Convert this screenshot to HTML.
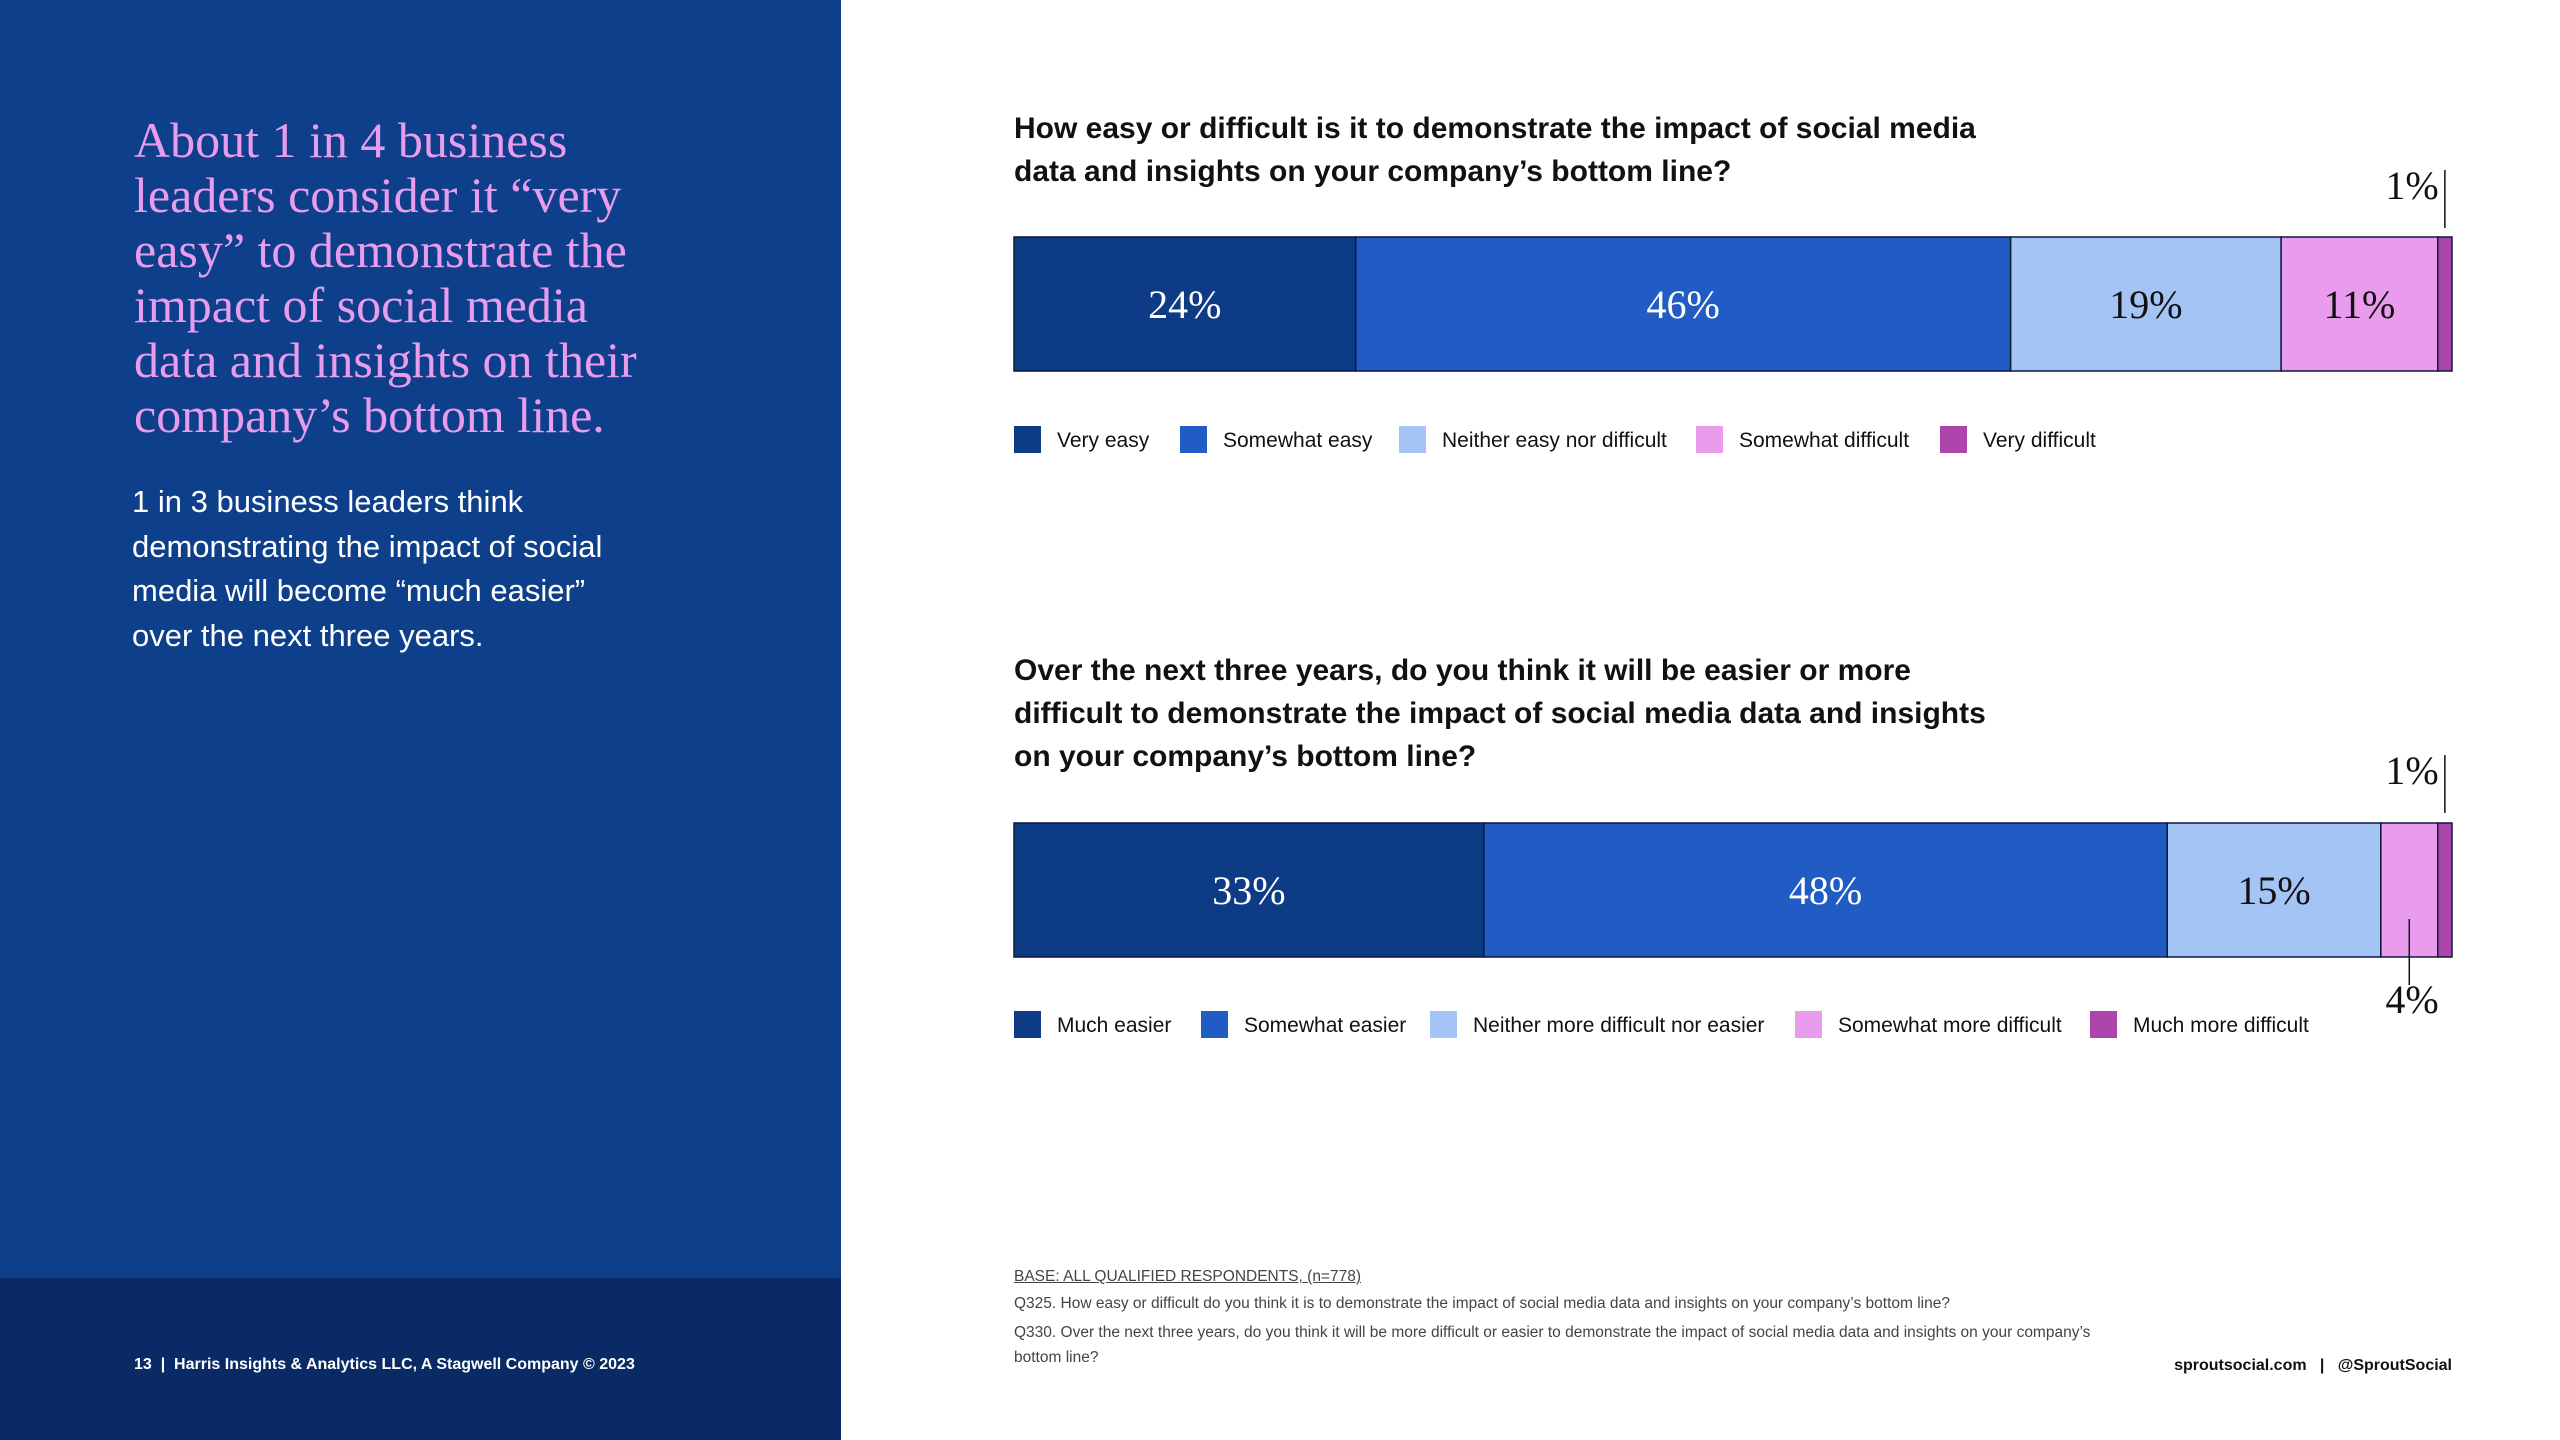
<!DOCTYPE html>
<html><head><meta charset="utf-8"><style>
*{margin:0;padding:0;box-sizing:border-box}
body{width:2560px;height:1440px;background:#fff;position:relative;overflow:hidden;font-family:"Liberation Sans",sans-serif}
#left{position:absolute;left:0;top:0;width:841px;height:1278px;background:#0d3f8a}
#foot{position:absolute;left:0;top:1278px;width:841px;height:162px;background:#0a2a66}
.head{position:absolute;left:134px;top:113px;width:700px;font-family:"Liberation Serif",serif;font-size:50px;line-height:55px;color:#e99ced;white-space:nowrap}
.body{position:absolute;left:132px;top:480px;width:700px;font-size:31px;line-height:44.5px;color:#fff;white-space:nowrap}
.ft{position:absolute;left:134px;top:1356px;font-size:16px;font-weight:bold;color:#fff}
.title{position:absolute;left:1014px;font-size:30px;font-weight:bold;line-height:43px;color:#111}
.note{position:absolute;left:1014px;font-size:15.5px;color:#444}
</style></head><body>
<div id="left"></div>
<div id="foot"></div>
<div class="head">About 1 in 4 business<br>leaders consider it “very<br>easy” to demonstrate the<br>impact of social media<br>data and insights on their<br>company’s bottom line.</div>
<div class="body">1 in 3 business leaders think<br>demonstrating the impact of social<br>media will become “much easier”<br>over the next three years.</div>
<div class="ft">13 &nbsp;|&nbsp; Harris Insights &amp; Analytics LLC, A Stagwell Company © 2023</div>
<div class="title" style="top:107px">How easy or difficult is it to demonstrate the impact of social media<br>data and insights on your company’s bottom line?</div>
<div class="title" style="top:649px">Over the next three years, do you think it will be easier or more<br>difficult to demonstrate the impact of social media data and insights<br>on your company’s bottom line?</div>
<div class="note" style="top:1268px;text-decoration:underline">BASE: ALL QUALIFIED RESPONDENTS, (n=778)</div>
<div class="note" style="top:1295px">Q325. How easy or difficult do you think it is to demonstrate the impact of social media data and insights on your company’s bottom line?</div>
<div class="note" style="top:1320px;line-height:25px;width:1120px">Q330. Over the next three years, do you think it will be more difficult or easier to demonstrate the impact of social media data and insights on your company’s bottom line?</div>
<div style="position:absolute;right:108px;top:1357px;font-size:16px;font-weight:bold;color:#111">sproutsocial.com &nbsp;&nbsp;|&nbsp;&nbsp; @SproutSocial</div>
<svg id="chart" width="2560" height="1440" style="position:absolute;left:0;top:0"></svg>
<script>
const colors=["#0d3b85","#215bc4","#a3c4f5","#e99ced","#ad45ad"];
const labels1=["Very easy","Somewhat easy","Neither easy nor difficult","Somewhat difficult","Very difficult"];
const values1=[24,46,19,11,1];
const labels2=["Much easier","Somewhat easier","Neither more difficult nor easier","Somewhat more difficult","Much more difficult"];
const values2=[33,48,15,4,1];
const legendX1=[1014,1180,1399,1696,1940];
const legendX2=[1014,1201,1430,1795,2090];
const svg=document.getElementById('chart');
const NS="http://www.w3.org/2000/svg";
const X0=1014,W=2452-1014;
function mk(t,a){const e=document.createElementNS(NS,t);for(const k in a)e.setAttribute(k,a[k]);svg.appendChild(e);return e;}
function draw(vals,labs,y,h,lx,ly,key){
  const tot=vals.reduce((a,b)=>a+b,0);
  const sx=v=>v/tot*W;
  let x=X0;
  vals.forEach((v,i)=>{
    const w=sx(v);
    const r=mk('rect',{x:x,y:y,width:w,height:h,fill:colors[i],stroke:'#0a1a3a','stroke-width':1.5});
    
    
    if(v>=10){
      const t=mk('text',{x:x+w/2,y:y+h/2+14,'text-anchor':'middle','font-family':'Liberation Serif, serif','font-size':40,fill:i<2?'#fff':'#111'});
      t.textContent=v+'%';
      
      
    }
    x+=w;
  });
  labs.forEach((l,i)=>{
    const s=mk('rect',{x:lx[i],y:ly-13,width:27,height:27,fill:colors[i]});
    
    
    const t=mk('text',{x:lx[i]+43,y:ly+8,'font-size':21,fill:'#111','font-family':'Liberation Sans, sans-serif'});
    t.textContent=l;
    
    
  });
}
draw(values1,labels1,237,134,legendX1,439,'chart1');
draw(values2,labels2,823,134,legendX2,1024,'chart2');
function callout(vals,idx,y0,y1,ty,key){
  const tot=vals.reduce((a,b)=>a+b,0);
  let s=0;for(let i=0;i<idx;i++)s+=vals[i];
  const cx=X0+(s+vals[idx]/2)/tot*W;
  const l=mk('line',{x1:cx,y1:y0,x2:cx,y2:y1,stroke:'#111','stroke-width':1.5});
  
  
  const t=mk('text',{x:2412,y:ty,'text-anchor':'middle','font-family':'Liberation Serif, serif','font-size':40,fill:'#111'});
  t.textContent=vals[idx]+'%';
  
  
}
callout(values1,4,170,228,199,'chart1-verydifficult');
callout(values2,4,755,813,784,'chart2-muchmore');
callout(values2,3,919,985,1013,'chart2-somewhatmore');
</script>
</body></html>
